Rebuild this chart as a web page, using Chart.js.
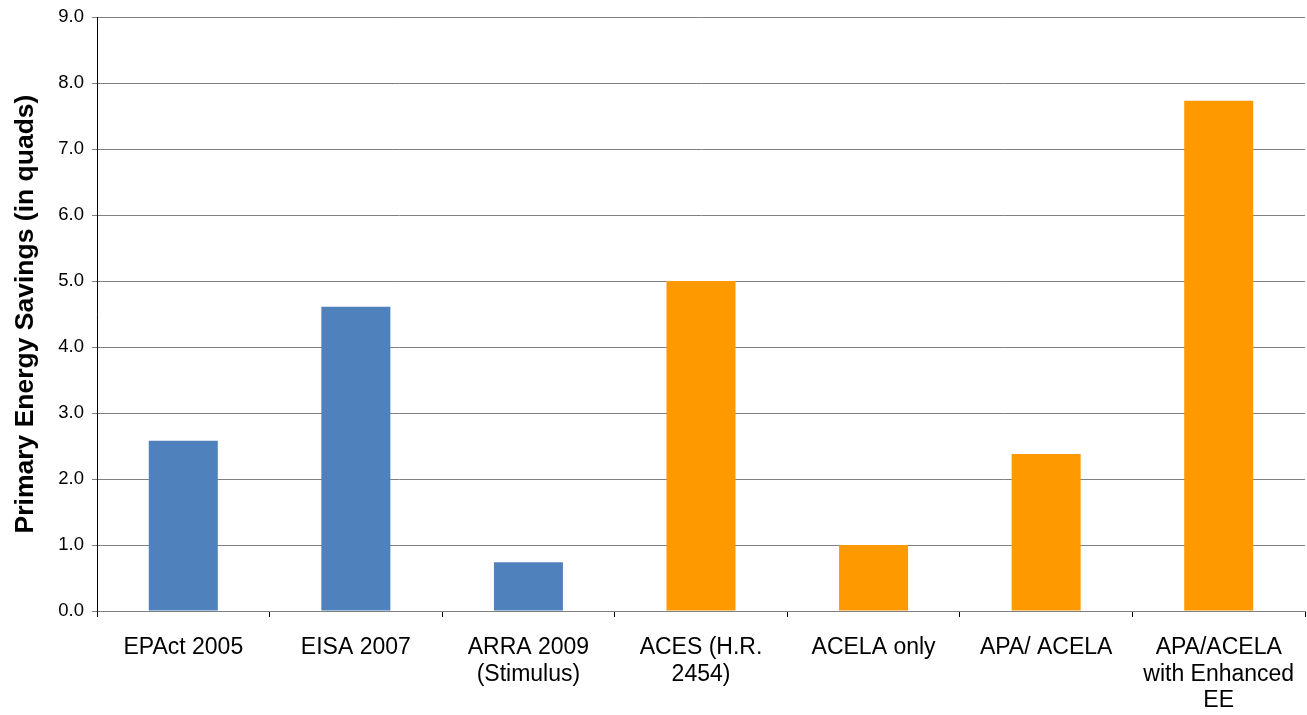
<!DOCTYPE html>
<html>
<head>
<meta charset="utf-8">
<script src="https://cdn.jsdelivr.net/npm/chart.js@4/dist/chart.umd.min.js"></script>
<style>
  html, body { margin: 0; padding: 0; background: #ffffff; }
  #wrap { width: 1307px; height: 715px; }
</style>
</head>
<body>
<div id="wrap"><canvas id="savingsChart" width="1307" height="715"></canvas></div>
<script>
const categories = [
  'EPAct 2005',
  'EISA 2007',
  ['ARRA 2009', '(Stimulus)'],
  ['ACES (H.R.', '2454)'],
  'ACELA only',
  'APA/ ACELA',
  ['APA/ACELA', 'with Enhanced', 'EE'],
];
const savings = [2.58, 4.61, 0.74, 5.0, 1.0, 2.38, 7.73];
// enacted laws in blue, proposed legislation in orange
const barColors = ['#4F81BD', '#4F81BD', '#4F81BD', '#FF9900', '#FF9900', '#FF9900', '#FF9900'];

const FONT = "'Liberation Sans', Arial, sans-serif";

const ctx = document.getElementById('savingsChart').getContext('2d');
new Chart(ctx, {
  type: 'bar',
  data: {
    labels: categories,
    datasets: [{
      data: savings,
      backgroundColor: barColors,
      borderWidth: 0,
      barPercentage: 0.4,
      categoryPercentage: 1.0,
    }],
  },
  options: {
    responsive: false,
    animation: false,
    layout: { padding: { top: 17, right: 2, bottom: 0, left: 0 } },
    plugins: {
      legend: { display: false },
      tooltip: { enabled: false },
    },
    scales: {
      x: {
        // fixed band height; labels are centred so no edge padding needed
        afterFit: (scale) => {
          scale.height = 104;
          scale.paddingLeft = 0;
          scale.paddingRight = 0;
        },
        border: { color: '#808080', width: 1 },
        grid: {
          offset: true,
          drawOnChartArea: false,
          color: '#000000',
          tickLength: 6,
        },
        ticks: {
          color: '#000000',
          padding: 18,
          maxRotation: 0,
          autoSkip: false,
          font: { family: FONT, size: 23, lineHeight: 1.14 },
        },
      },
      y: {
        min: 0,
        max: 9,
        afterFit: (scale) => {
          scale.width = 97;
          scale.paddingTop = 0;
          scale.paddingBottom = 0;
        },
        border: { color: '#000000', width: 1 },
        grid: {
          color: '#808080',
          tickLength: 5,
        },
        ticks: {
          stepSize: 1,
          color: '#000000',
          padding: 8,
          font: { family: FONT, size: 18.5 },
          callback: (v) => Number(v).toFixed(1),
        },
        title: {
          display: true,
          text: 'Primary Energy Savings (in quads)',
          color: '#000000',
          padding: { top: 10, bottom: 0 },
          font: { family: FONT, size: 26.5, weight: 'bold' },
        },
      },
    },
  },
});
</script>
</body>
</html>
